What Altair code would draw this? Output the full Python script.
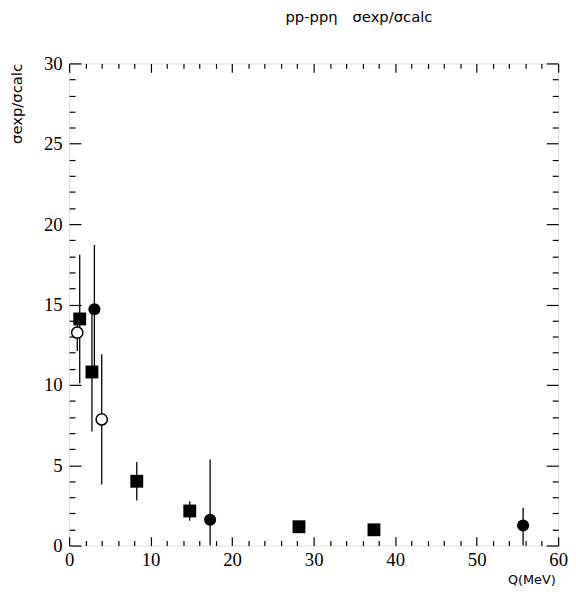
import altair as alt
import pandas as pd

# filled squares
sq_q = [1.3, 2.8, 8.3, 14.8, 28.2, 37.4]
sq_s = [14.1, 10.8, 4.0, 2.15, 1.17, 0.98]
sq_lo = [10.1, 7.1, 2.8, 1.55, 0.9, 0.75]
sq_hi = [18.1, 14.5, 5.2, 2.75, 1.45, 1.2]

# filled circles
fc_q = [3.1, 17.3, 55.7]
fc_s = [14.7, 1.6, 1.25]
fc_lo = [10.7, 0.0, 0.0]
fc_hi = [18.7, 5.35, 2.35]

# open circles
oc_q = [1.0, 4.0]
oc_s = [13.25, 7.85]
oc_lo = [12.1, 3.8]
oc_hi = [14.4, 11.9]

x_ticks = list(range(0, 61, 2))
y_ticks = list(range(0, 31, 1))

def frame(q, s, lo, hi, kind):
    return pd.DataFrame({"Q": q, "sig": s, "lo": lo, "hi": hi, "kind": kind})

df_sq = frame(sq_q, sq_s, sq_lo, sq_hi, "sq")
df_fc = frame(fc_q, fc_s, fc_lo, fc_hi, "fc")
df_oc = frame(oc_q, oc_s, oc_lo, oc_hi, "oc")
df_all = pd.concat([df_sq, df_fc, df_oc])

xs = alt.Scale(domain=[0, 60], nice=False, zero=False)
ys = alt.Scale(domain=[0, 30], nice=False, zero=False)

lab_font = "Liberation Serif"
tit_font = "DejaVu Sans"

x_bottom = alt.Axis(
    orient="bottom", values=x_ticks, grid=False, domain=False,
    tickSize=alt.ExprRef("datum.value % 10 === 0 ? -9 : -5"),
    tickColor="black", tickWidth=1.2,
    labelExpr="datum.value % 10 === 0 ? datum.label : ''",
    labelPadding=14, labelFont=lab_font, labelFontSize=19, labelColor="black",
    labelOverlap=False, labelFlush=False,
    title="Q(MeV)", titleX=493, titleY=35, titleAlign="right", titleBaseline="middle",
    titleFont=tit_font, titleFontSize=13, titleFontWeight="normal", titleColor="black",
)
y_left = alt.Axis(
    orient="left", values=y_ticks, grid=False, domain=False,
    tickSize=alt.ExprRef("datum.value % 5 === 0 ? -12 : -6"),
    tickColor="black", tickWidth=1.2,
    labelExpr="datum.value % 5 === 0 ? datum.label : ''",
    labelPadding=19, labelFont=lab_font, labelFontSize=19, labelColor="black",
    labelOverlap=False, labelFlush=False,
    title="σexp/σcalc", titleX=-53, titleY=0, titleAngle=-90, titleAlign="right",
    titleBaseline="middle", titleFont=tit_font, titleFontSize=15,
    titleFontWeight="normal", titleColor="black",
)
x_top = alt.Axis(
    orient="top", values=x_ticks, grid=False, domain=False, labels=False, title=None,
    tickSize=alt.ExprRef("datum.value % 10 === 0 ? -9 : -5"),
    tickColor="black", tickWidth=1.2,
)
y_right = alt.Axis(
    orient="right", values=y_ticks, grid=False, domain=False, labels=False, title=None,
    tickSize=alt.ExprRef("datum.value % 5 === 0 ? -12 : -6"),
    tickColor="black", tickWidth=1.2,
)

bars = alt.Chart(df_all).mark_rule(color="black", strokeWidth=1.3).encode(
    x=alt.X("Q:Q", scale=xs, axis=x_bottom),
    y=alt.Y("lo:Q", scale=ys, axis=y_left),
    y2="hi:Q",
)

squares = alt.Chart(df_sq).mark_square(size=170, color="black", opacity=1).encode(
    x=alt.X("Q:Q", scale=xs, axis=x_top),
    y=alt.Y("sig:Q", scale=ys, axis=y_right),
)
fcircles = alt.Chart(df_fc).mark_circle(size=150, color="black", opacity=1).encode(
    x=alt.X("Q:Q", scale=xs, axis=None),
    y=alt.Y("sig:Q", scale=ys, axis=None),
)
ocircles = alt.Chart(df_oc).mark_point(
    shape="circle", size=130, filled=True, fill="white", stroke="black",
    strokeWidth=1.5, opacity=1,
).encode(
    x=alt.X("Q:Q", scale=xs, axis=None),
    y=alt.Y("sig:Q", scale=ys, axis=None),
)

chart = alt.layer(bars, squares, fcircles, ocircles).resolve_axis(
    x="independent", y="independent"
).properties(
    width=496, height=489,
    autosize=alt.AutoSizeParams(type="none"),
    padding={"left": 62, "top": 52, "right": 10, "bottom": 50},
    title=alt.TitleParams(
        "pp-ppη\u2002\u2002σexp/σcalc", font=tit_font, fontSize=15, fontWeight="normal",
        color="black", anchor="middle", dx=46, offset=23, baseline="middle",
    ),
).configure_view(stroke="black", strokeWidth=2).configure(background="white")

chart.save("out.html", embed_options={"renderer": "svg", "actions": False})
